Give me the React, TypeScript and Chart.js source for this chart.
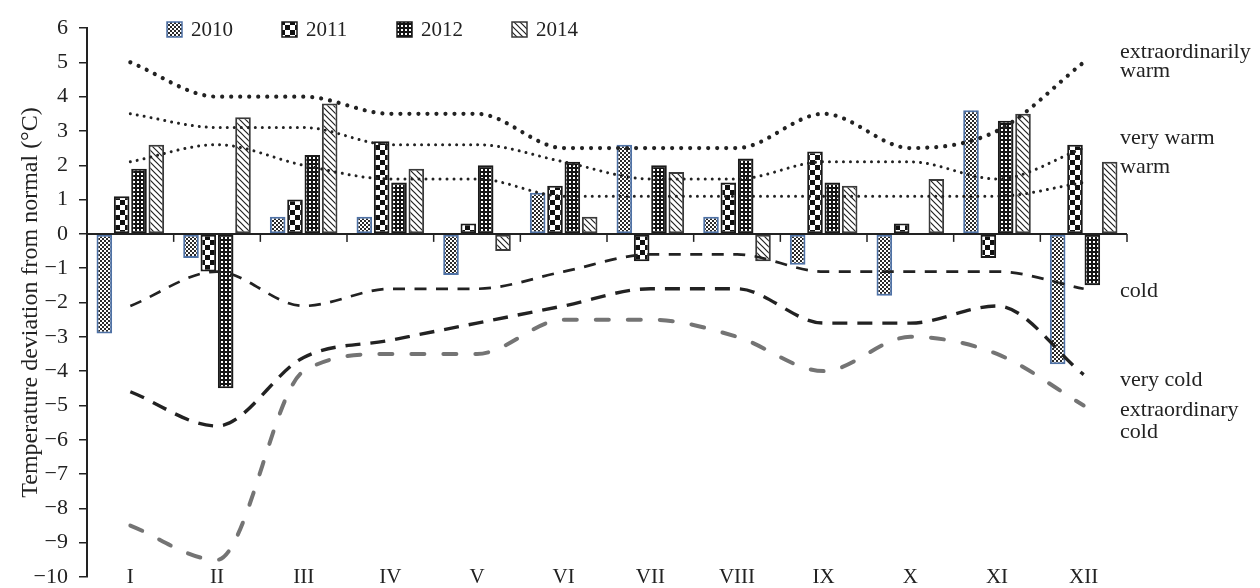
import { useEffect, useRef } from 'react';
import { Chart, registerables } from 'chart.js';

Chart.register(...registerables);

// ---------------- data ----------------
const months = ['I', 'II', 'III', 'IV', 'V', 'VI', 'VII', 'VIII', 'IX', 'X', 'XI', 'XII'];
const years = ['2010', '2011', '2012', '2014'];

const dev2010 = [-2.9, -0.7, 0.5, 0.5, -1.2, 1.2, 2.6, 0.5, -0.9, -1.8, 3.6, -3.8];
const dev2011 = [1.1, -1.1, 1.0, 2.7, 0.3, 1.4, -0.8, 1.5, 2.4, 0.3, -0.7, 2.6];
const dev2012 = [1.9, -4.5, 2.3, 1.5, 2.0, 2.1, 2.0, 2.2, 1.5, null, 3.3, -1.5];
const dev2014 = [2.6, 3.4, 3.8, 1.9, -0.5, 0.5, 1.8, -0.8, 1.4, 1.6, 3.5, 2.1];

const extraWarm = [5.0, 4.0, 4.0, 3.5, 3.5, 2.5, 2.5, 2.5, 3.5, 2.5, 3.0, 5.0];
const veryWarm = [3.5, 3.1, 3.1, 2.6, 2.6, 2.1, 1.6, 1.6, 2.1, 2.1, 1.6, 2.5];
const warm = [2.1, 2.6, 2.0, 1.6, 1.6, 1.1, 1.1, 1.1, 1.1, 1.1, 1.1, 1.5];
const cold = [-2.1, -1.1, -2.1, -1.6, -1.6, -1.1, -0.6, -0.6, -1.1, -1.1, -1.1, -1.6];
const veryCold = [-4.6, -5.6, -3.6, -3.1, -2.6, -2.1, -1.6, -1.6, -2.6, -2.6, -2.1, -4.1];
const extraCold = [-8.5, -9.5, -4.0, -3.5, -3.5, -2.5, -2.5, -3.0, -4.0, -3.0, -3.5, -5.0];

const yMin = -10;
const yMax = 6;
const yTitle = 'Temperature deviation from normal (°C)';
const thresholdNames = [
  ['extraordinarily', 'warm'],
  ['very warm'],
  ['warm'],
  ['cold'],
  ['very cold'],
  ['extraordinary', 'cold'],
];

// ---------------- styling ----------------
const FONT = "'Liberation Serif', 'Times New Roman', serif";
const INK = '#222222';

function makePattern(w: number, h: number, draw: (g: CanvasRenderingContext2D) => void) {
  const c = document.createElement('canvas');
  c.width = w;
  c.height = h;
  const g = c.getContext('2d') as CanvasRenderingContext2D;
  draw(g);
  return g.createPattern(c, 'repeat') as CanvasPattern;
}

function buildPatterns() {
  const p2010 = makePattern(4, 4, (g) => {
    g.fillStyle = '#ffffff';
    g.fillRect(0, 0, 4, 4);
    g.fillStyle = '#2a2a2a';
    g.fillRect(0, 0, 2, 2);
    g.fillRect(2, 2, 2, 2);
  });
  const p2011 = makePattern(10, 10, (g) => {
    g.fillStyle = '#ffffff';
    g.fillRect(0, 0, 10, 10);
    g.fillStyle = '#111111';
    g.fillRect(0, 0, 5, 5);
    g.fillRect(5, 5, 5, 5);
  });
  const p2012 = makePattern(4, 4, (g) => {
    g.fillStyle = '#151515';
    g.fillRect(0, 0, 4, 4);
    g.fillStyle = '#ffffff';
    g.fillRect(1, 1, 2, 2);
  });
  const p2014 = makePattern(6, 6, (g) => {
    g.fillStyle = '#ffffff';
    g.fillRect(0, 0, 6, 6);
    g.strokeStyle = '#222222';
    g.lineWidth = 1.2;
    g.beginPath();
    g.moveTo(-1, -1);
    g.lineTo(7, 7);
    g.moveTo(5, -1);
    g.lineTo(7, 1);
    g.moveTo(-1, 5);
    g.lineTo(1, 7);
    g.stroke();
  });
  return [p2010, p2011, p2012, p2014];
}

const barBorders = ['#4f72a6', '#1a1a1a', '#1a1a1a', '#3a3a3a'];

function makeDecorPlugin(pats: CanvasPattern[]) {
  return {
    id: 'decor',
    afterDatasetsDraw(chart: any) {
      const { ctx, chartArea, scales } = chart;
      const x = scales.x;
      const y = scales.y;
      const y0 = y.getPixelForValue(0);
      ctx.save();
      ctx.strokeStyle = INK;
      ctx.lineWidth = 2;
      ctx.beginPath();
      ctx.moveTo(chartArea.left, y0);
      ctx.lineTo(chartArea.right, y0);
      ctx.stroke();
      ctx.lineWidth = 1.5;
      for (let i = 0; i <= months.length; i++) {
        const px = x.getPixelForValue(i - 0.5);
        ctx.beginPath();
        ctx.moveTo(px, y0);
        ctx.lineTo(px, y0 + 8);
        ctx.stroke();
      }
      ctx.restore();
    },
    afterDraw(chart: any) {
      const { ctx, chartArea, scales } = chart;
      const x = scales.x;
      ctx.save();
      ctx.fillStyle = INK;

      // category labels at the bottom
      ctx.font = `21px ${FONT}`;
      ctx.textAlign = 'center';
      ctx.textBaseline = 'middle';
      months.forEach((m, i) => {
        ctx.fillText(m, x.getPixelForValue(i), chartArea.bottom);
      });

      // legend
      ctx.textAlign = 'left';
      years.forEach((yr, i) => {
        const bx = chartArea.left + 80 + i * 115;
        const by = 22;
        ctx.fillStyle = pats[i];
        ctx.fillRect(bx, by, 15, 15);
        ctx.strokeStyle = barBorders[i];
        ctx.lineWidth = 1.5;
        ctx.strokeRect(bx, by, 15, 15);
        ctx.fillStyle = INK;
        ctx.fillText(yr, bx + 24, by + 8);
      });

      // threshold labels on the right
      const baselines = [[58, 77], [144], [173], [297], [386], [416, 438]];
      ctx.font = `22px ${FONT}`;
      ctx.textBaseline = 'alphabetic';
      thresholdNames.forEach((lines, i) => {
        lines.forEach((t, j) => {
          ctx.fillText(t, chartArea.right - 7, baselines[i][j]);
        });
      });
      ctx.restore();
    },
  };
}

export default function App() {
  const ref = useRef<HTMLCanvasElement | null>(null);

  useEffect(() => {
    if (!ref.current) return;
    const pats = buildPatterns();
    const lineBase = {
      type: 'line' as const,
      pointRadius: 0,
      pointHoverRadius: 0,
      fill: false,
      cubicInterpolationMode: 'monotone' as const,
      order: 0,
    };
    const barDatasets = [dev2010, dev2011, dev2012, dev2014].map((d, i) => ({
      type: 'bar' as const,
      label: years[i],
      data: d,
      backgroundColor: pats[i],
      borderColor: barBorders[i],
      borderWidth: 2,
      borderSkipped: false,
      order: 1,
    }));
    const chart = new Chart(ref.current, {
      type: 'bar',
      data: {
        labels: months,
        datasets: [
          ...barDatasets,
          { ...lineBase, label: 'extraordinarily warm', data: extraWarm, borderColor: INK, borderWidth: 4.2, borderDash: [0.01, 9], borderCapStyle: 'round' },
          { ...lineBase, label: 'very warm', data: veryWarm, borderColor: INK, borderWidth: 3, borderDash: [0.01, 7], borderCapStyle: 'round' },
          { ...lineBase, label: 'warm', data: warm, borderColor: INK, borderWidth: 3, borderDash: [0.01, 7], borderCapStyle: 'round' },
          { ...lineBase, label: 'cold', data: cold, borderColor: INK, borderWidth: 2.7, borderDash: [12, 9.5] },
          { ...lineBase, label: 'very cold', data: veryCold, borderColor: INK, borderWidth: 3.4, borderDash: [15, 10] },
          { ...lineBase, label: 'extraordinary cold', data: extraCold, borderColor: '#747474', borderWidth: 4, borderDash: [13, 19], borderCapStyle: 'round' },
        ] as any,
      },
      options: {
        responsive: false,
        animation: false,
        events: [],
        layout: { padding: { left: 0, right: 133, top: 28, bottom: 11 } },
        plugins: {
          legend: { display: false },
          tooltip: { enabled: false },
        },
        scales: {
          x: {
            display: false,
            offset: true,
            categoryPercentage: 0.74,
            barPercentage: 1.0,
          } as any,
          y: {
            min: yMin,
            max: yMax,
            afterFit: (scale: any) => {
              scale.width = 87;
              scale.paddingTop = 0;
              scale.paddingBottom = 0;
            },
            ticks: {
              stepSize: 1,
              color: INK,
              padding: 11,
              font: { family: FONT, size: 22, lineHeight: 1 },
              callback: (v: any) => String(v).replace('-', '\u2212'),
            },
            grid: {
              display: true,
              drawOnChartArea: false,
              drawTicks: true,
              tickLength: 8,
              color: INK,
              lineWidth: 1.5,
            },
            border: { display: true, color: INK, width: 2 },
            title: {
              display: true,
              text: yTitle,
              color: INK,
              font: { family: FONT, size: 24 },
              padding: { top: 16, bottom: 0 },
            },
          },
        },
      },
      plugins: [makeDecorPlugin(pats)],
    });
    return () => chart.destroy();
  }, []);

  return (
    <div style={{ position: 'fixed', left: 0, top: 0, width: 1260, height: 588, background: '#fff' }}>
      <canvas ref={ref} width={1260} height={588} />
    </div>
  );
}
